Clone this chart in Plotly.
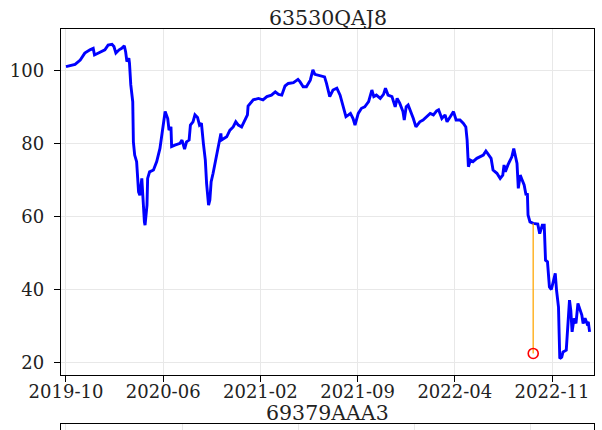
import plotly.graph_objects as go

# Trading-day index of each observation and the bond price at that point
obs = [0, 14, 22, 29, 37, 42, 44, 50, 55, 60, 65, 71, 74, 77, 82, 86, 90, 92, 94, 97, 98,
       100, 103, 104, 106, 109, 112, 114, 117, 118, 121, 122, 125, 126, 129, 135, 140, 145,
       149, 153, 157, 159, 162, 163, 168, 176, 179, 183, 186, 190, 192, 196, 199, 203, 206,
       209, 212, 215, 217, 220, 222, 224, 227, 233, 235, 239, 240, 248, 253, 258, 262, 266,
       271, 276, 280, 281, 289, 297, 304, 310, 317, 323, 328, 333, 338, 343, 351, 358, 361,
       366, 371, 377, 381, 384, 392, 399, 402, 407, 412, 418, 423, 428, 432, 436, 439, 443,
       446, 451, 456, 461, 467, 472, 475, 479, 485, 490, 493, 497, 503, 508, 511, 515, 520,
       522, 525, 528, 532, 536, 540, 546, 551, 557, 562, 567, 572, 575, 580, 585, 588, 593,
       598, 602, 608, 613, 617, 619, 621, 624, 628, 634, 639, 644, 648, 652, 656, 659, 665,
       670, 674, 676, 678, 682, 688, 691, 694, 696, 698, 701, 703, 707, 710, 712, 713, 716,
       721, 728, 731, 735, 738, 740, 743, 746, 749, 752, 755, 757, 760, 761, 762, 765, 767,
       772, 774, 777, 779, 781, 784, 787, 790, 793, 796, 798, 801, 804, 806, 808]
price = [101.0, 101.6, 102.8, 104.7, 105.6, 106.0, 104.2, 104.7, 105.1, 105.6, 106.9, 107.1,
         106.5, 104.7, 105.6, 106.0, 106.7, 105.1, 102.4, 103.3, 101.9, 96.0, 91.4, 80.4,
         76.8, 75.0, 66.7, 65.8, 70.4, 66.7, 58.5, 57.6, 63.1, 70.4, 72.2, 72.7, 75.0, 78.6,
         83.2, 88.7, 86.8, 83.6, 84.5, 79.1, 79.5, 80.0, 80.9, 78.4, 80.4, 80.9, 85.0, 85.9,
         87.8, 87.1, 85.0, 85.5, 80.0, 75.4, 69.0, 63.1, 64.5, 69.5, 71.8, 77.3, 78.2, 82.7,
         80.9, 81.8, 83.6, 84.5, 85.9, 85.0, 84.5, 86.4, 87.8, 90.2, 91.9, 92.3, 91.9, 92.8,
         93.2, 94.1, 93.4, 93.2, 95.7, 96.4, 96.6, 97.5, 96.9, 95.5, 95.5, 97.3, 100.1, 98.9,
         98.5, 98.2, 96.4, 92.8, 94.6, 95.1, 93.2, 90.0, 87.3, 87.8, 88.2, 86.8, 85.0, 88.2,
         89.6, 90.0, 91.4, 94.6, 92.8, 93.2, 92.3, 93.4, 95.1, 93.2, 92.8, 90.0, 92.3, 91.0,
         88.7, 86.4, 90.0, 90.5, 88.7, 86.8, 84.5, 85.9, 86.4, 87.3, 88.2, 87.8, 88.9, 89.2,
         86.8, 87.8, 85.9, 87.3, 88.7, 86.4, 86.4, 85.5, 84.5, 80.9, 73.6, 75.4, 75.0, 75.9,
         76.3, 76.8, 77.9, 76.8, 75.9, 72.7, 71.8, 70.4, 71.3, 74.1, 72.2, 74.1, 76.3, 78.6,
         75.9, 74.5, 67.7, 71.3, 70.4, 68.6, 65.8, 66.3, 60.4, 58.5, 58.1, 57.9, 55.3, 57.6,
         57.6, 48.0, 47.6, 40.7, 40.0, 42.1, 44.4, 39.8, 35.2, 28.0, 21.1, 21.5, 22.9, 23.4,
         29.8, 37.1, 34.3, 28.4, 32.1, 30.7, 36.2, 34.3, 33.0, 30.7, 32.1, 30.7, 31.1, 28.4]

# Event marker: price on the event day and the recovery value below it
event_obs = 721
event_price = 58.1
recovery_price = 22.5

tick_obs = [0, 150, 300, 450, 600, 750]
tick_labels = ["2019-10", "2020-06", "2021-02", "2021-09", "2022-04", "2022-11"]
y_ticks = [20, 40, 60, 80, 100]

titles = ["63530QAJ8", "69379AAA3"]
lower_grid = [0, 1, 2, 3, 4]

FONT = "DejaVu Serif"
W, H = 602, 430
ML, MR, MT, MB = 61, 8, 29, 0
plot_h = H - MT - MB

fig = go.Figure()

fig.add_trace(go.Scatter(x=obs, y=price, mode="lines",
                         line=dict(color="#0000ff", width=2.9),
                         xaxis="x", yaxis="y", showlegend=False))
fig.add_trace(go.Scatter(x=[event_obs, event_obs], y=[event_price, recovery_price],
                         mode="lines", line=dict(color="rgba(255,165,0,0.8)", width=1.6),
                         xaxis="x", yaxis="y", showlegend=False))
fig.add_trace(go.Scatter(x=[event_obs], y=[recovery_price], mode="markers",
                         marker=dict(symbol="circle-open", size=10, color="red",
                                     line=dict(width=1.6, color="red")),
                         xaxis="x", yaxis="y", showlegend=False))
# lower panel (only its top edge is on the page)
fig.add_trace(go.Scatter(x=[None], y=[None], xaxis="x2", yaxis="y2", showlegend=False))

axis_common = dict(showline=True, linecolor="black", linewidth=1.4, mirror=True,
                   zeroline=False, gridcolor="#e8e8e8", gridwidth=1.2,
                   tickfont=dict(family=FONT, size=18, color="#222"))

fig.update_layout(
    width=W, height=H,
    margin=dict(l=ML, r=MR, t=MT, b=MB),
    paper_bgcolor="white", plot_bgcolor="white",
    font=dict(family=FONT, color="#222"),
    # zero-length major ticks keep the date labels close; the visible tick marks are minor ones
    xaxis=dict(axis_common, domain=[0, 1], anchor="y",
               range=[-7.7, 814.8], tickmode="array", tickvals=tick_obs, ticktext=tick_labels,
               ticks="outside", ticklen=0, tickwidth=1.4, tickcolor="black", showgrid=True,
               minor=dict(tickmode="array", tickvals=tick_obs, ticks="outside", ticklen=6,
                          tickwidth=1.4, tickcolor="black", showgrid=False)),
    yaxis=dict(axis_common, domain=[55 / plot_h, 1], anchor="x",
               range=[16.6, 111.3], tickmode="array", tickvals=y_ticks,
               ticks="outside", ticklen=6, tickwidth=1.4, tickcolor="black", showgrid=True,
               ticklabelstandoff=6),
    xaxis2=dict(domain=[0, 1], anchor="y2", side="top", range=[-0.043, 4.55],
                tickmode="array", tickvals=lower_grid, showticklabels=False,
                showline=True, linecolor="black", linewidth=1.4, mirror=False,
                zeroline=False, showgrid=True, gridcolor="#e8e8e8", gridwidth=1.2),
    yaxis2=dict(domain=[0, 6 / plot_h], anchor="x2", range=[0, 1], showticklabels=False,
                showline=True, linecolor="black", linewidth=1.4, mirror=True,
                zeroline=False, showgrid=False),
    annotations=[
        dict(text=titles[0], x=0.5, xref="paper", y=(H - 17.5) / plot_h, yref="paper",
             xanchor="center", yanchor="middle", showarrow=False,
             font=dict(family=FONT, size=20.5, color="#222")),
        dict(text=titles[1], x=0.5, xref="paper", y=(H - 412.5) / plot_h, yref="paper",
             xanchor="center", yanchor="middle", showarrow=False,
             font=dict(family=FONT, size=20.5, color="#222")),
    ],
)

fig.write_html("out.html")
